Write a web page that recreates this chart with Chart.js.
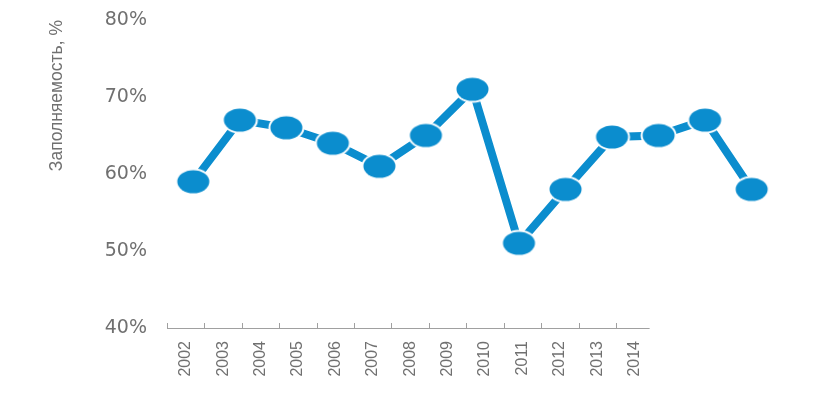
<!DOCTYPE html>
<html>
<head>
<meta charset="utf-8">
<script src="https://cdn.jsdelivr.net/npm/chart.js@4.4.1/dist/chart.umd.min.js"></script>
<style>
  html, body { margin: 0; padding: 0; background: #ffffff; }
  #wrap { width: 825px; height: 405px; position: relative; }
</style>
</head>
<body>
<div id="wrap"><canvas id="c" width="825" height="405"></canvas></div>
<script>
// ---- Data ----
const years = ["2002","2003","2004","2005","2006","2007","2008","2009","2010","2011","2012","2013","2014"];
const occupancy = [59, 67, 66, 64, 61, 65, 71, 51, 58, 64.8, 65, 67, 58];
const yTicks = [40, 50, 60, 70, 80];
const yTitle = "Заполняемость, %";

// ---- Styling ----
const BLUE = "#0b8dce";
const GREY = "#707070";
const EXTRA_SLOTS = 4; // empty category slots to the right (axis label layout only)

function makeEllipse() {
  const rx = 16.5, ry = 12, b = 3;
  const cv = document.createElement("canvas");
  cv.width = Math.ceil((rx + b) * 2);
  cv.height = Math.ceil((ry + b) * 2);
  const g = cv.getContext("2d");
  g.beginPath();
  g.ellipse(cv.width / 2, cv.height / 2, rx + b / 2, ry + b / 2, 0, 0, Math.PI * 2);
  g.fillStyle = "#ffffff";
  g.fill();
  g.beginPath();
  g.ellipse(cv.width / 2, cv.height / 2, rx - 0.5, ry - 0.5, 0, 0, Math.PI * 2);
  g.fillStyle = BLUE;
  g.fill();
  return cv;
}
const ellipse = makeEllipse();

const axisLabels = years.concat(Array(EXTRA_SLOTS).fill(""));
const points = occupancy.map((v, i) => ({ x: i, y: v }));

const axisLinePlugin = {
  id: "axisLine",
  afterDraw(chart) {
    const xs = chart.scales.x;
    const y = chart.scales.y.getPixelForValue(yTicks[0]);
    const step = xs.getPixelForValue(1) - xs.getPixelForValue(0);
    const ctx = chart.ctx;
    ctx.save();
    ctx.strokeStyle = "#a0a0a0";
    ctx.lineWidth = 1;
    ctx.beginPath();
    const x0 = xs.getPixelForValue(0) - step / 2;
    const x1 = xs.getPixelForValue(years.length - 1) + step * 0.4;
    ctx.moveTo(x0, Math.round(y) + 0.5);
    ctx.lineTo(x1, Math.round(y) + 0.5);
    for (let i = 0; i < years.length; i++) {
      const xb = Math.round(xs.getPixelForValue(i) - step / 2) + 0.5;
      ctx.moveTo(xb, Math.round(y) + 0.5);
      ctx.lineTo(xb, Math.round(y) - 5);
    }
    ctx.stroke();
    ctx.restore();
  }
};

new Chart(document.getElementById("c"), {
  type: "line",
  data: {
    labels: axisLabels,
    datasets: [{
      data: points,
      xAxisID: "xd",
      borderColor: BLUE,
      borderWidth: 8,
      tension: 0,
      pointStyle: ellipse,
      pointRadius: 16,
      pointHoverRadius: 16,
      fill: false,
      clip: false
    }]
  },
  options: {
    responsive: false,
    animation: false,
    events: [],
    layout: { autoPadding: false, padding: { top: 20, right: 22, bottom: 0, left: 0 } },
    plugins: { legend: { display: false }, tooltip: { enabled: false } },
    scales: {
      x: {
        type: "category",
        position: "bottom",
        offset: true,
        grid: { display: false, drawTicks: false },
        border: { display: false },
        ticks: {
          color: GREY,
          font: { family: "Liberation Sans", size: 16 },
          minRotation: 90,
          maxRotation: 90,
          autoSkip: false,
          padding: 13
        },
        afterFit(s) { s.height = 77; s.paddingLeft = 0; s.paddingRight = 0; }
      },
      xd: {
        type: "linear",
        display: false,
        min: -0.565,
        max: 13.104
      },
      y: {
        min: 40,
        max: 80,
        afterBuildTicks(s) { s.ticks = yTicks.map(v => ({ value: v })); },
        grid: { display: false, drawTicks: false },
        border: { display: false },
        ticks: {
          color: GREY,
          font: { family: "DejaVu Sans", size: 19 },
          padding: 20,
          callback: v => v + "%"
        },
        title: {
          display: true,
          text: yTitle,
          align: "end",
          color: GREY,
          font: { family: "Liberation Sans", size: 17.5 },
          padding: { top: 47, bottom: 0 }
        },
        afterFit(s) { s.width = 167; s.paddingTop = 0; s.paddingBottom = 0; }
      }
    }
  },
  plugins: [axisLinePlugin]
});
</script>
</body>
</html>
